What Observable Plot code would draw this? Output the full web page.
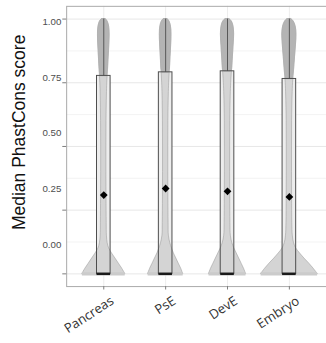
<!DOCTYPE html>
<html>
<head>
<meta charset="utf-8">
<script src="https://cdn.jsdelivr.net/npm/d3@7"></script>
<script src="https://cdn.jsdelivr.net/npm/@observablehq/plot@0.6"></script>
<style>
  html, body { margin: 0; padding: 0; background: #fff; overflow: hidden; }
  #chart svg { display: block; }
</style>
</head>
<body>
<div id="chart"></div>
<script>
// ---- data ----
const categories = ["Pancreas", "PsE", "DevE", "Embryo"];
const q3Values   = [0.777, 0.791, 0.795, 0.765];
const medianValues = [0, 0, 0, 0];
const meanValues = [0.309, 0.335, 0.324, 0.302];
const whiskerTop = [1, 1, 1, 1];

// violin profile: y levels and half-width (density) at each level
const violinY = [0, 0.02, 0.04, 0.06, 0.08, 0.10, 0.12, 0.15, 0.2, 0.3, 0.4, 0.5, 0.6, 0.7, 0.75, 0.8, 0.85, 0.9, 0.94, 0.97, 0.99, 1.0];
const densityPancreas = [22, 19, 15.5, 12, 8.5, 5.5, 4, 3.2, 3, 2.8, 2.7, 2.7, 2.8, 3.2, 3.6, 4.3, 5, 5.7, 6, 5.5, 4, 2];
const densityPsE      = [18, 16, 13.5, 11, 8.5, 6.5, 4.8, 3.3, 3, 2.8, 2.7, 2.7, 2.8, 3.2, 3.6, 4.3, 5, 5.7, 6, 5.5, 4, 2];
const densityDevE     = [19, 17, 14.5, 12, 9.5, 7, 5, 3.4, 3, 2.8, 2.7, 2.7, 2.8, 3.3, 3.8, 4.6, 5.5, 6.3, 6.8, 6.2, 4.5, 2];
const densityEmbryo   = [29, 25, 20.5, 15.5, 11, 7, 4.8, 3.5, 3, 2.8, 2.7, 2.7, 2.8, 3.3, 3.8, 4.8, 5.8, 6.8, 7.3, 6.5, 4.5, 2];
const densities = [densityPancreas, densityPsE, densityDevE, densityEmbryo];

const yTicks = [0, 0.25, 0.5, 0.75, 1];
const yMinor = [0.125, 0.375, 0.625, 0.875];
const yTickLabels = ["0.00", "0.25", "0.50", "0.75", "1.00"];
const yTitle = "Median PhastCons score";

// ---- layout ----
const W = 335, H = 343;
const mL = 68, mT = 6, mB = 49, mR = 0;
const step = (W - mL - mR) / 4.2;   // px per category
const dens = 1 / step;               // density (px) -> x units
const boxHalf = 0.11;

const stats = categories.map((name, i) => ({
  name, c: i + 1, q3: q3Values[i], med: medianValues[i], mean: meanValues[i],
  top: whiskerTop[i], base: densities[i][0]
}));
const rows = [];
categories.forEach((name, i) => violinY.forEach((y, j) =>
  rows.push({name, c: i + 1, y, w: densities[i][j] * dens})));

// darker upper bulge: from the box top upward
const upperRows = [];
categories.forEach((name, i) => {
  const q3 = q3Values[i];
  let jBelow = 0;
  violinY.forEach((y, j) => { if (y <= q3) jBelow = j; });
  upperRows.push({name, c: i + 1, y: q3, w: densities[i][jBelow] * dens});
  violinY.forEach((y, j) => { if (y > q3) upperRows.push({name, c: i + 1, y, w: densities[i][j] * dens}); });
});

const fmtLabel = (v) => yTickLabels[yTicks.indexOf(v)];

const plot = Plot.plot({
  width: W, height: H,
  marginLeft: mL, marginRight: mR, marginTop: mT, marginBottom: mB,
  style: {fontFamily: "'Liberation Sans', Arial, sans-serif", background: "#fff"},
  x: {domain: [0.4, 4.6], axis: null},
  y: {domain: [-0.05, 1.05], axis: null},
  marks: [
    Plot.gridY(yMinor, {stroke: "#f3f3f3", strokeOpacity: 1}),
    Plot.gridY(yTicks, {stroke: "#e6e6e6", strokeOpacity: 1}),
    Plot.gridX([1, 2, 3, 4], {stroke: "#ececec", strokeOpacity: 1}),
    Plot.frame({stroke: "#a8a8a8"}),
    // box fill
    Plot.rect(stats, {x1: d => d.c - boxHalf, x2: d => d.c + boxHalf, y1: d => d.med, y2: "q3", fill: "#ededed"}),
    // violin
    Plot.areaX(rows, {y: "y", x1: d => d.c - d.w, x2: d => d.c + d.w, z: "name",
      fill: "#d4d4d4", stroke: "#8f8f8f", strokeWidth: 0.6, strokeOpacity: 0.8, curve: "catmull-rom"}),
    Plot.areaX(upperRows, {y: "y", x1: d => d.c - d.w, x2: d => d.c + d.w, z: "name",
      fill: "#b4b4b4", stroke: "#aaaaaa", strokeWidth: 0.5, curve: "catmull-rom"}),
    // base band
    Plot.ruleY(stats, {y: 0, x1: d => d.c - d.base * dens, x2: d => d.c + d.base * dens, stroke: "#cbcbcb", strokeWidth: 3.5}),
    // whisker
    Plot.ruleX(stats, {x: "c", y1: "q3", y2: "top", stroke: "#555", strokeWidth: 1}),
    // box outline
    Plot.rect(stats, {x1: d => d.c - boxHalf, x2: d => d.c + boxHalf, y1: d => d.med, y2: "q3", fill: "none", stroke: "#4a4a4a", strokeWidth: 1}),
    // median
    Plot.ruleY(stats, {y: "med", x1: d => d.c - boxHalf, x2: d => d.c + boxHalf, stroke: "#1a1a1a", strokeWidth: 2.5}),
    // mean
    Plot.dot(stats, {x: "c", y: "mean", symbol: "diamond2", r: 3.6, fill: "#000", stroke: "none"}),
    // y axis ticks
    Plot.axisY(yTicks, {tickSize: 4, tickFormat: () => "", stroke: "#7a7a7a", label: null}),
    // y tick labels
    Plot.text(yTicks, {y: v => 0.114 + 0.875 * v, frameAnchor: "left", text: fmtLabel,
      textAnchor: "end", dx: -5.5, fontSize: 10, fill: "#4d4d4d"}),
    // x axis ticks
    Plot.axisX([1, 2, 3, 4], {tickSize: 3.5, tickFormat: () => "", stroke: "#7a7a7a", label: null}),
    // x labels
    Plot.text(stats, {x: "c", frameAnchor: "bottom", text: "name", rotate: -33,
      textAnchor: "end", lineAnchor: "top", dx: 6, dy: 9, fontSize: 13.5,
      fill: "#333", fontFamily: "'Open Sans', sans-serif"}),
    // y title
    Plot.text([yTitle], {frameAnchor: "left", text: d => d, rotate: -90, dx: -49, dy: -14.5,
      textAnchor: "middle", fontSize: 18, fill: "#111"})
  ]
});
document.getElementById("chart").appendChild(plot);
</script>
</body>
</html>
